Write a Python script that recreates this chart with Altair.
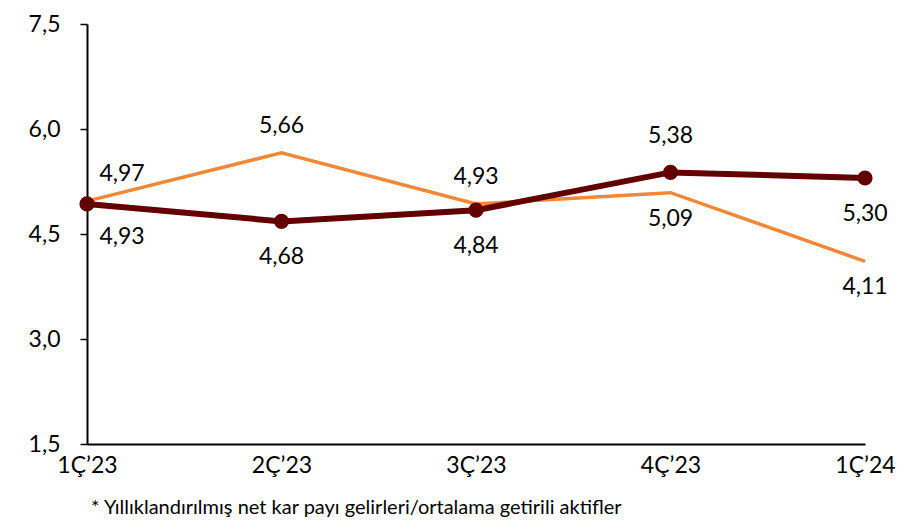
import altair as alt
import pandas as pd

quarters = ["1Ç’23", "2Ç’23", "3Ç’23", "4Ç’23", "1Ç’24"]
dark_values = [4.93, 4.68, 4.84, 5.38, 5.30]
orange_values = [4.97, 5.66, 4.93, 5.09, 4.11]
dark_label_side = ["below", "below", "below", "above", "below"]
orange_label_side = ["above", "above", "above", "below", "below"]
y_ticks = [1.5, 3.0, 4.5, 6.0, 7.5]
footnote = "* Yıllıklandırılmış net kar payı gelirleri/ortalama getirili aktifler"

FONT = "Lato"
DARK = "#620000"
ORANGE = "#F0883A"

rows = []
for i, q in enumerate(quarters):
    rows.append({"q": q, "v": dark_values[i], "s": "dark", "side": dark_label_side[i],
                 "first": i == 0, "lab": f"{dark_values[i]:.2f}".replace(".", ",")})
    rows.append({"q": q, "v": orange_values[i], "s": "orange", "side": orange_label_side[i],
                 "first": i == 0, "lab": f"{orange_values[i]:.2f}".replace(".", ",")})
df = pd.DataFrame(rows)

x = alt.X("q:N", sort=quarters, scale=alt.Scale(type="point", padding=0),
          axis=alt.Axis(title=None, labelAngle=0, ticks=False, domainColor="black",
                        domainWidth=2, labelFontSize=23, labelFont=FONT, labelColor="black",
                        labelPadding=10))
y = alt.Y("v:Q", scale=alt.Scale(domain=[1.5, 7.5]),
          axis=alt.Axis(title=None, values=y_ticks, format=".1f", grid=False,
                        domainColor="black", domainWidth=2, tickColor="black", tickWidth=1.5,
                        tickSize=7, labelFontSize=23, labelFont=FONT, labelColor="black",
                        labelPadding=20, labelExpr="replace(datum.label, '.', ',')"))

base = alt.Chart(df)

orange_line = base.transform_filter("datum.s == 'orange'").mark_line(
    color=ORANGE, strokeWidth=3.5).encode(x=x, y=y)
dark_line = base.transform_filter("datum.s == 'dark'").mark_line(
    color=DARK, strokeWidth=6).encode(x=x, y=y)
dark_pts = base.transform_filter("datum.s == 'dark'").mark_circle(
    color=DARK, size=230, opacity=1).encode(x=x, y=y)

def labels(series, side, first, dy, dx):
    return base.transform_filter(
        f"datum.s == '{series}' && datum.side == '{side}' && datum.first == {str(first).lower()}"
    ).mark_text(fontSize=23, font=FONT, color="black", dy=dy, dx=dx).encode(
        x=x, y=y, text="lab:N")

text_layers = [
    labels("orange", "above", False, -27, 0),
    labels("orange", "below", False, 26, 0),
    labels("dark", "above", False, -36, 0),
    labels("dark", "below", False, 36, 0),
    labels("orange", "above", True, -27, 35),
    labels("dark", "below", True, 33, 35),
]

chart = alt.layer(orange_line, dark_line, dark_pts, *text_layers).properties(
    width=778, height=420,
    autosize=alt.AutoSizeParams(type="none"),
    padding={"left": 79, "top": 16, "right": 50, "bottom": 80},
    title=alt.TitleParams(footnote, orient="bottom", anchor="start", dx=63, offset=21,
                          fontSize=20, font=FONT, fontWeight="normal", color="black"),
).configure_view(stroke=None)

chart.save("out.html", embed_options={"renderer": "svg", "actions": False})
